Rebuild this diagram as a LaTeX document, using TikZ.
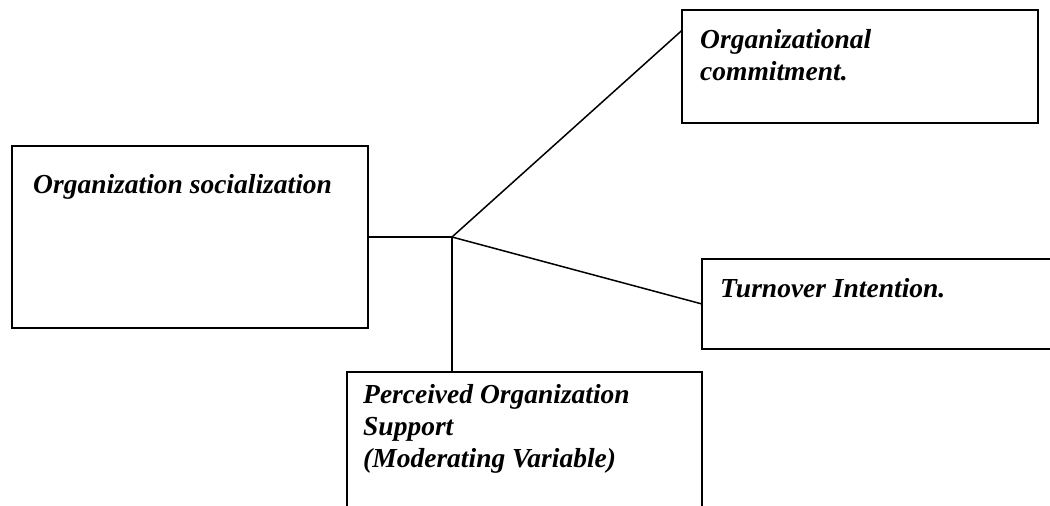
\documentclass[tikz,border=0pt]{standalone}
\usepackage{fontspec}
\setmainfont{Liberation Serif}
\usetikzlibrary{calc}
\begin{document}
\begin{tikzpicture}[x=1pt,y=-1pt,
  box/.style={draw=black,line width=2.2pt,rectangle,inner sep=0pt,outer sep=0pt},
  lbl/.style={anchor=base west,inner sep=0pt,align=left,font=\fontsize{27.5}{32}\selectfont\bfseries\itshape},
  conn/.style={draw=black,line width=1.5pt}]
\useasboundingbox (0,0) rectangle (1050,506);
\clip (0,0) rectangle (1050,506);
\node[box,minimum width=356pt,minimum height=182pt] (soc) at (190,237) {};
\node[box,minimum width=356pt,minimum height=113pt] (com) at (860,66.5) {};
\node[box,minimum width=358pt,minimum height=90pt] (turn) at (881,304) {};
\node[box,minimum width=355pt,minimum height=143pt] (pos) at (524.5,443.5) {};
\node[lbl] (tsoc) at (33,193) {Organization socialization};
\node[lbl] (tcom) at (700,80) {Organizational\\commitment.};
\node[lbl] (tturn) at (720,297) {Turnover Intention.};
\node[lbl] (tpos) at (363,467) {Perceived Organization\\Support\\(Moderating Variable)};
\coordinate (j) at (452,237);
\coordinate (comin) at ($(com.north west)!0.18!(com.south west)$);
\coordinate (turnin) at ($(turn.north west)!0.5!(turn.south west)$);
\draw[conn] (soc.east) -- (j);
\draw[conn] (j) -- (comin);
\draw[conn] (j) -- (turnin);
\draw[conn] (j) -- (j |- pos.north);
\end{tikzpicture}
\end{document}
